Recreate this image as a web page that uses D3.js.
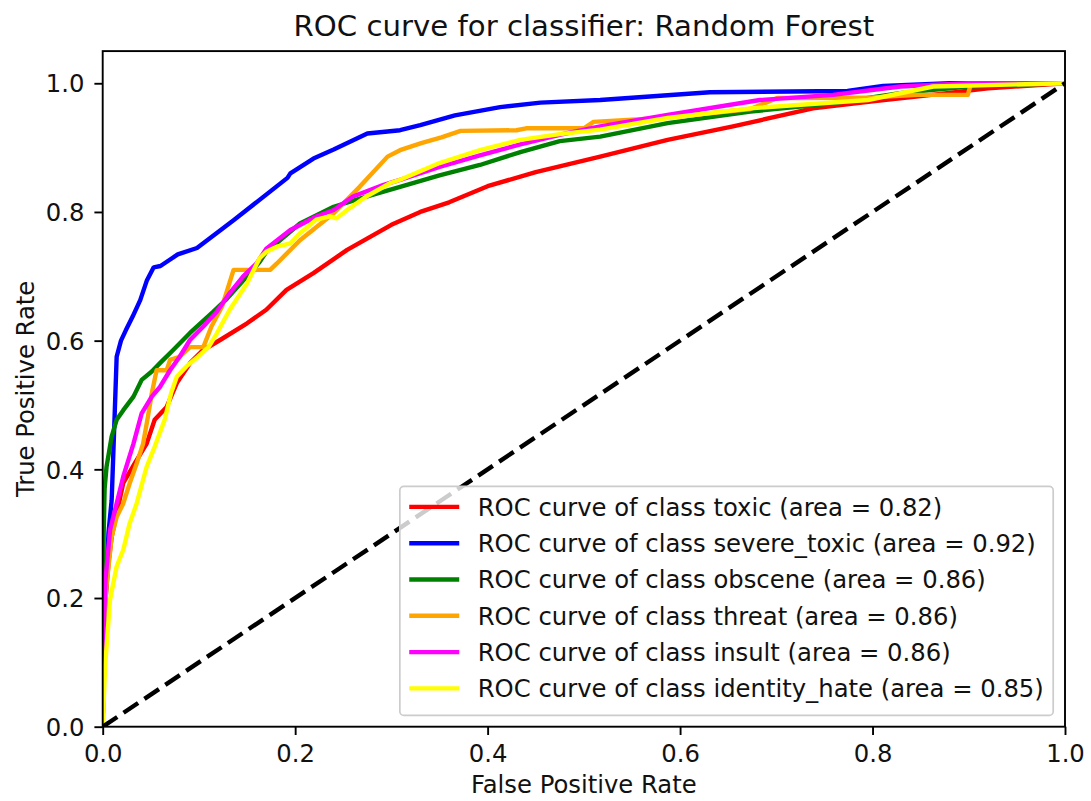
<!DOCTYPE html>
<html>
<head>
<meta charset="utf-8">
<script src="https://cdn.jsdelivr.net/npm/d3@7"></script>
<style>
  html, body { margin: 0; padding: 0; background: #fff; }
  svg { display: block; font-family: "DejaVu Sans", sans-serif; }
</style>
</head>
<body>
<svg id="chart" width="1091" height="801"></svg>
<script>
// ---------- data ----------
const classes = ["toxic", "severe_toxic", "obscene", "threat", "insult", "identity_hate"];
const areas = [0.82, 0.92, 0.86, 0.86, 0.86, 0.85];
const xTicks = [0.0, 0.2, 0.4, 0.6, 0.8, 1.0];
const yTicks = [0.0, 0.2, 0.4, 0.6, 0.8, 1.0];

// [fpr, tpr] pairs per class
const toxic = [[0,0],[0.001,0.12],[0.003,0.2],[0.006,0.255],[0.0093,0.295],[0.0214,0.379],[0.0336,0.41],[0.0457,0.44],[0.054,0.477],[0.0665,0.497],[0.077,0.534],[0.0907,0.565],[0.104,0.585],[0.122,0.601],[0.150,0.627],[0.170,0.648],[0.191,0.679],[0.219,0.705],[0.254,0.741],[0.30,0.78],[0.33,0.80],[0.36,0.815],[0.40,0.84],[0.45,0.862],[0.517,0.886],[0.587,0.912],[0.655,0.933],[0.738,0.961],[0.80,0.972],[0.85,0.98],[0.92,0.992],[1,1]];
const severeToxic = [[0,0],[0.001,0.1],[0.003,0.2],[0.006,0.301],[0.0093,0.352],[0.010,0.38],[0.012,0.466],[0.0145,0.575],[0.019,0.60],[0.024,0.616],[0.031,0.637],[0.039,0.663],[0.046,0.694],[0.053,0.714],[0.060,0.716],[0.067,0.723],[0.078,0.734],[0.098,0.744],[0.136,0.787],[0.192,0.853],[0.195,0.860],[0.219,0.883],[0.240,0.897],[0.275,0.922],[0.309,0.927],[0.33,0.935],[0.366,0.95],[0.413,0.963],[0.455,0.97],[0.517,0.974],[0.631,0.986],[0.774,0.988],[0.811,0.996],[0.88,1.0],[1,1]];
const obscene = [[0,0],[0.0005,0.2],[0.001,0.3],[0.002,0.37],[0.004,0.404],[0.0093,0.451],[0.0145,0.477],[0.0214,0.492],[0.032,0.513],[0.0405,0.539],[0.051,0.552],[0.0595,0.565],[0.073,0.585],[0.0907,0.612],[0.115,0.645],[0.129,0.665],[0.150,0.700],[0.163,0.722],[0.170,0.738],[0.205,0.782],[0.240,0.808],[0.274,0.824],[0.309,0.839],[0.35,0.857],[0.392,0.873],[0.434,0.893],[0.475,0.91],[0.517,0.917],[0.587,0.938],[0.673,0.956],[0.759,0.969],[0.83,0.985],[0.9,0.995],[1,1]];
const threat = [[0,0],[0.001,0.15],[0.004,0.22],[0.0093,0.295],[0.0145,0.326],[0.0214,0.347],[0.028,0.378],[0.0353,0.409],[0.042,0.44],[0.047,0.482],[0.051,0.518],[0.056,0.554],[0.0665,0.554],[0.070,0.570],[0.080,0.575],[0.0907,0.59],[0.1046,0.59],[0.113,0.622],[0.124,0.653],[0.136,0.71],[0.174,0.71],[0.181,0.72],[0.205,0.756],[0.240,0.798],[0.267,0.839],[0.296,0.886],[0.309,0.896],[0.331,0.907],[0.352,0.916],[0.372,0.926],[0.43,0.927],[0.44,0.93],[0.50,0.93],[0.51,0.94],[0.59,0.947],[0.673,0.96],[0.701,0.977],[0.725,0.977],[0.80,0.978],[0.847,0.982],[0.899,0.982],[0.902,0.998],[0.93,1.0],[1,1]];
const insult = [[0,0],[0.001,0.15],[0.003,0.23],[0.0077,0.306],[0.0145,0.347],[0.0214,0.389],[0.032,0.44],[0.0405,0.487],[0.051,0.513],[0.0595,0.528],[0.070,0.554],[0.080,0.575],[0.0907,0.601],[0.1046,0.622],[0.1185,0.645],[0.132,0.674],[0.146,0.70],[0.160,0.72],[0.170,0.743],[0.195,0.772],[0.222,0.793],[0.240,0.803],[0.26,0.824],[0.292,0.842],[0.309,0.85],[0.35,0.87],[0.392,0.888],[0.434,0.905],[0.475,0.92],[0.517,0.933],[0.587,0.951],[0.683,0.974],[0.759,0.982],[0.829,0.995],[0.9,1.0],[1,1]];
const identityHate = [[0,0],[0.0025,0.093],[0.0076,0.197],[0.0145,0.249],[0.0214,0.275],[0.028,0.316],[0.0353,0.347],[0.0457,0.404],[0.054,0.435],[0.0644,0.477],[0.071,0.518],[0.077,0.544],[0.087,0.56],[0.099,0.575],[0.11,0.59],[0.1185,0.611],[0.132,0.648],[0.150,0.689],[0.163,0.728],[0.170,0.738],[0.181,0.746],[0.195,0.751],[0.205,0.767],[0.222,0.788],[0.236,0.793],[0.243,0.790],[0.254,0.803],[0.274,0.824],[0.299,0.845],[0.309,0.85],[0.35,0.876],[0.392,0.896],[0.434,0.912],[0.475,0.921],[0.517,0.928],[0.587,0.946],[0.673,0.961],[0.795,0.974],[0.863,0.995],[1,1]];
const series = [toxic, severeToxic, obscene, threat, insult, identityHate];
const diagonal = [[0,0],[1,1]];

// ---------- style ----------
const colors = ["#ff0000", "#0000ff", "#008000", "#ffa500", "#ff00ff", "#ffff00"];
const fs = 24.3;        // tick / legend font size
const titleFs = 29.2;
const lw = 4.4;
const txtColor = "#111";
const pL = 102.7, pR = 1065, pT = 51.1, pB = 726.7;

const svg = d3.select("#chart");
const x = d3.scaleLinear().domain([0, 1]).range([pL, pR]);
const y = d3.scaleLinear().domain([0, 1.05]).range([pB, pT]);

svg.append("defs").append("clipPath").attr("id", "clip")
  .append("rect").attr("x", pL).attr("y", pT).attr("width", pR - pL).attr("height", pB - pT);

const line = d3.line().x(d => x(d[0])).y(d => y(d[1]));
const plot = svg.append("g").attr("clip-path", "url(#clip)");

series.forEach((s, i) => {
  plot.append("path").datum(s).attr("d", line)
    .attr("fill", "none").attr("stroke", colors[i]).attr("stroke-width", lw)
    .attr("stroke-linejoin", "round").attr("stroke-linecap", "square");
});
plot.append("path").datum(diagonal).attr("d", line)
  .attr("fill", "none").attr("stroke", "#000").attr("stroke-width", lw)
  .attr("stroke-dasharray", "17.5,7.6");

// axes
const tickLen = 8.3, tickPad = 8.3;
const xAxis = d3.axisBottom(x).tickValues(xTicks).tickFormat(d3.format(".1f"))
  .tickSizeInner(tickLen).tickSizeOuter(0).tickPadding(tickPad);
const yAxis = d3.axisLeft(y).tickValues(yTicks).tickFormat(d3.format(".1f"))
  .tickSizeInner(tickLen).tickSizeOuter(0).tickPadding(tickPad);

const gx = svg.append("g").attr("transform", `translate(0,${pB})`).call(xAxis);
const gy = svg.append("g").attr("transform", `translate(${pL},0)`).call(yAxis);
[gx, gy].forEach(g => {
  g.select(".domain").remove();
  g.selectAll(".tick line").attr("stroke", "#000").attr("stroke-width", 1.9);
  g.selectAll(".tick text").attr("fill", txtColor).attr("font-size", fs)
    .attr("font-family", "DejaVu Sans");
});
gx.selectAll(".tick text").attr("dy", null).attr("y", 35.3);
gy.selectAll(".tick text").attr("dy", null).attr("x", -18.2).attr("y", 8.7);

// frame
svg.append("rect").attr("x", pL).attr("y", pT).attr("width", pR - pL).attr("height", pB - pT)
  .attr("fill", "none").attr("stroke", "#000").attr("stroke-width", 1.9);

// title & labels
svg.append("text").attr("x", (pL + pR) / 2).attr("y", 35.5).attr("text-anchor", "middle")
  .attr("font-size", titleFs).attr("fill", txtColor).text("ROC curve for classifier: Random Forest");
svg.append("text").attr("x", (pL + pR) / 2).attr("y", 793).attr("text-anchor", "middle")
  .attr("font-size", fs).attr("fill", txtColor).text("False Positive Rate");
svg.append("text").attr("transform", `translate(34,${(pT + pB) / 2}) rotate(-90)`)
  .attr("text-anchor", "middle").attr("font-size", fs).attr("fill", txtColor).text("True Positive Rate");

// legend
const labels = classes.map((c, i) => `ROC curve of class ${c} (area = ${areas[i].toFixed(2)})`);
const lg = svg.append("g");
const box = lg.append("rect");
const rowH = 36.3, bpad = 9.4, handleLen = 50, hpad = 18.5;
const texts = labels.map((t, i) => lg.append("text").attr("font-size", fs).attr("fill", txtColor).text(t));
const maxW = d3.max(texts, t => t.node().getComputedTextLength());
const boxRight = pR - 11.8, boxBottom = pB - 11.3;
const boxW = bpad * 2 + handleLen + hpad + maxW;
const boxH = 229;
const boxLeft = boxRight - boxW, boxTop = boxBottom - boxH;
box.attr("x", boxLeft).attr("y", boxTop).attr("width", boxW).attr("height", boxH)
  .attr("rx", 4).attr("fill", "#fff").attr("fill-opacity", 0.8).attr("stroke", "#cccccc").attr("stroke-width", 1.7);
labels.forEach((t, i) => {
  const cy = boxTop + 20.5 + i * rowH;
  lg.append("line").attr("x1", boxLeft + bpad).attr("x2", boxLeft + bpad + handleLen)
    .attr("y1", cy).attr("y2", cy).attr("stroke", colors[i]).attr("stroke-width", lw);
  texts[i].attr("x", boxLeft + bpad + handleLen + hpad).attr("y", cy + 8.7);
});
</script>
</body>
</html>
